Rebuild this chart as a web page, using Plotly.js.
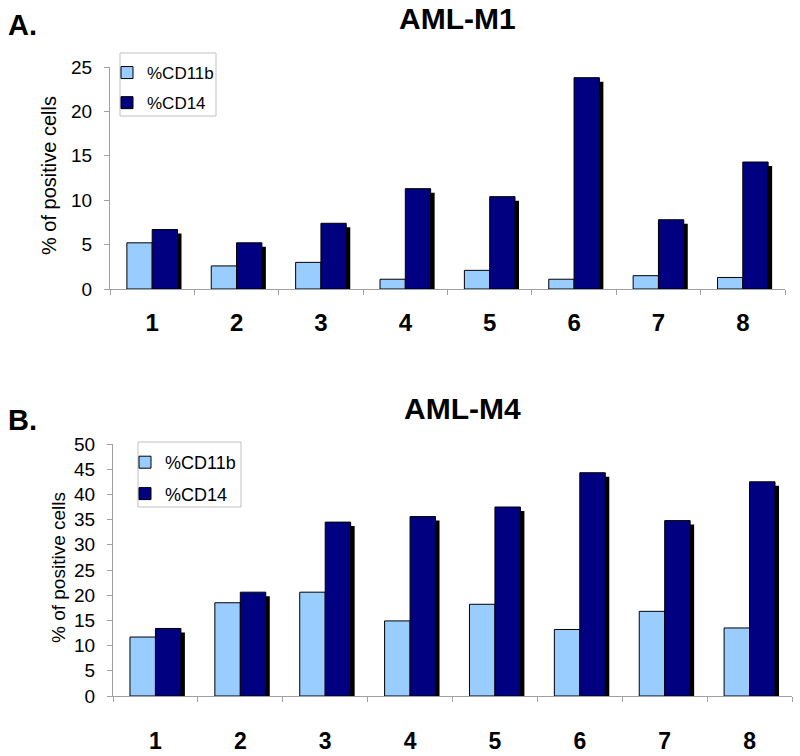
<!DOCTYPE html>
<html>
<head>
<meta charset="utf-8">
<script src="https://cdn.plot.ly/plotly-3.0.1.min.js"></script>
<style>html,body{margin:0;padding:0;background:#fff;}#chart{width:800px;height:756px;}</style>
</head>
<body>
<div id="chart"></div>
<script>
// ---- data ----
const categories = ['1', '2', '3', '4', '5', '6', '7', '8'];
const m1CD11b = [5.2, 2.6, 3.0, 1.1, 2.1, 1.1, 1.5, 1.3];
const m1CD14  = [6.7, 5.2, 7.4, 11.3, 10.4, 23.8, 7.8, 14.3];
const m4CD11b = [11.7, 18.5, 20.6, 14.9, 18.2, 13.2, 16.8, 13.5];
const m4CD14  = [13.4, 20.6, 34.5, 35.6, 37.5, 44.3, 34.8, 42.5];
const seriesNames = ['%CD11b', '%CD14'];
const yTicksM1 = [0, 5, 10, 15, 20, 25];
const yTicksM4 = [0, 5, 10, 15, 20, 25, 30, 35, 40, 45, 50];
const yTitle = '% of positive cells';

// ---- layout geometry (pixels) ----
const W = 800, H = 756;
const P1 = {l: 110, r: 785, t: 67, b: 289, ymax: 25};
const P2 = {l: 113, r: 792, t: 444, b: 696, ymax: 50};
const shadowPx = 4;
const FONT = 'Arial, "Liberation Sans", sans-serif';
const LIGHT = '#99CCFF', DARK = '#000080', AXIS = '#A0A0A0';

const px2x = p => p / W;
const px2y = p => 1 - p / H;

function traces(lightVals, darkVals, P, xa, ya, legendId) {
  const catPx = (P.r - P.l) / categories.length;
  const unitPx = (P.b - P.t) / P.ymax;
  const dx = shadowPx / catPx, dy = shadowPx / unitPx;
  return [
    {type: 'bar', x: categories, y: lightVals, name: seriesNames[0], xaxis: xa, yaxis: ya,
     offset: -0.3, width: 0.3, marker: {color: LIGHT, line: {color: '#000', width: 1}},
     legend: legendId, legendgroup: legendId + 'a', hoverinfo: 'skip'},
    {type: 'bar', x: categories, y: darkVals.map(v => v - dy), xaxis: xa, yaxis: ya,
     offset: dx, width: 0.3, marker: {color: '#000', line: {width: 0}},
     showlegend: false, hoverinfo: 'skip'},
    {type: 'bar', x: categories, y: darkVals, name: seriesNames[1], xaxis: xa, yaxis: ya,
     offset: 0, width: 0.3, marker: {color: DARK, line: {color: '#000', width: 1}},
     legend: legendId, legendgroup: legendId + 'b', hoverinfo: 'skip'}
  ];
}

const data = [].concat(
  traces(m1CD11b, m1CD14, P1, 'x', 'y', 'legend'),
  traces(m4CD11b, m4CD14, P2, 'x2', 'y2', 'legend2')
);

function xaxis(P, anchor, fs, standoff) {
  return {
    domain: [px2x(P.l), px2x(P.r)], anchor: anchor, type: 'category',
    range: [-0.5, categories.length - 0.5],
    showline: true, linecolor: AXIS, linewidth: 1,
    ticks: 'outside', tickson: 'boundaries', ticklen: 5, tickcolor: AXIS,
    showgrid: false, zeroline: false, fixedrange: true,
    tickfont: {family: FONT, size: fs, color: '#000', weight: 'bold'},
    ticklabelstandoff: standoff
  };
}
function yaxis(P, anchor, ticks, fs) {
  return {
    domain: [px2y(P.b), px2y(P.t)], anchor: anchor,
    range: [0, P.ymax], tickvals: ticks, ticktext: ticks.map(String),
    showline: true, linecolor: AXIS, linewidth: 1,
    ticks: 'outside', ticklen: 5, tickcolor: AXIS,
    showgrid: false, zeroline: false, fixedrange: true,
    tickfont: {family: FONT, size: fs, color: '#000'},
    ticklabelstandoff: 8
  };
}

const layout = {
  width: W, height: H,
  margin: {l: 0, r: 0, t: 0, b: 0},
  paper_bgcolor: '#fff', plot_bgcolor: 'rgba(0,0,0,0)',
  barmode: 'overlay', showlegend: true,
  xaxis: xaxis(P1, 'y', 24, 12),
  yaxis: yaxis(P1, 'x', yTicksM1, 19),
  xaxis2: xaxis(P2, 'y2', 23, 24),
  yaxis2: yaxis(P2, 'x2', yTicksM4, 19),
  legend: {x: px2x(107), y: px2y(55), xanchor: 'left', yanchor: 'top',
           bgcolor: 'rgba(0,0,0,0)', borderwidth: 0, tracegroupgap: 5,
           font: {family: FONT, size: 17, color: '#000'}},
  legend2: {x: px2x(125), y: px2y(444), xanchor: 'left', yanchor: 'top',
            bgcolor: 'rgba(0,0,0,0)', borderwidth: 0, tracegroupgap: 5,
            font: {family: FONT, size: 18, color: '#000'}},
  shapes: [
    {type: 'rect', xref: 'paper', yref: 'paper', x0: px2x(120), x1: px2x(216), y0: px2y(116), y1: px2y(53),
     line: {color: '#C0C0C0', width: 1}, fillcolor: 'rgba(255,255,255,0)', layer: 'above'},
    {type: 'rect', xref: 'paper', yref: 'paper', x0: px2x(138), x1: px2x(241), y0: px2y(507), y1: px2y(442),
     line: {color: '#C0C0C0', width: 1}, fillcolor: 'rgba(255,255,255,0)', layer: 'above'}
  ],
  annotations: [
    {text: 'A.', xref: 'paper', yref: 'paper', x: px2x(6), y: px2y(25), xanchor: 'left', yanchor: 'middle',
     showarrow: false, font: {family: FONT, size: 29, color: '#000', weight: 'bold'}},
    {text: 'AML-M1', xref: 'paper', yref: 'paper', x: px2x(457), y: px2y(18), xanchor: 'center', yanchor: 'middle',
     showarrow: false, font: {family: FONT, size: 30, color: '#000', weight: 'bold'}},
    {text: 'B.', xref: 'paper', yref: 'paper', x: px2x(6), y: px2y(420), xanchor: 'left', yanchor: 'middle',
     showarrow: false, font: {family: FONT, size: 29, color: '#000', weight: 'bold'}},
    {text: 'AML-M4', xref: 'paper', yref: 'paper', x: px2x(462), y: px2y(408), xanchor: 'center', yanchor: 'middle',
     showarrow: false, font: {family: FONT, size: 30, color: '#000', weight: 'bold'}},
    {text: yTitle, xref: 'paper', yref: 'paper', x: px2x(49), y: px2y(176), xanchor: 'center', yanchor: 'middle',
     textangle: -90, showarrow: false, font: {family: FONT, size: 20, color: '#000'}},
    {text: yTitle, xref: 'paper', yref: 'paper', x: px2x(58), y: px2y(567), xanchor: 'center', yanchor: 'middle',
     textangle: -90, showarrow: false, font: {family: FONT, size: 19, color: '#000'}}
  ]
};

Plotly.newPlot('chart', data, layout, {displayModeBar: false, staticPlot: true});
</script>
</body>
</html>
